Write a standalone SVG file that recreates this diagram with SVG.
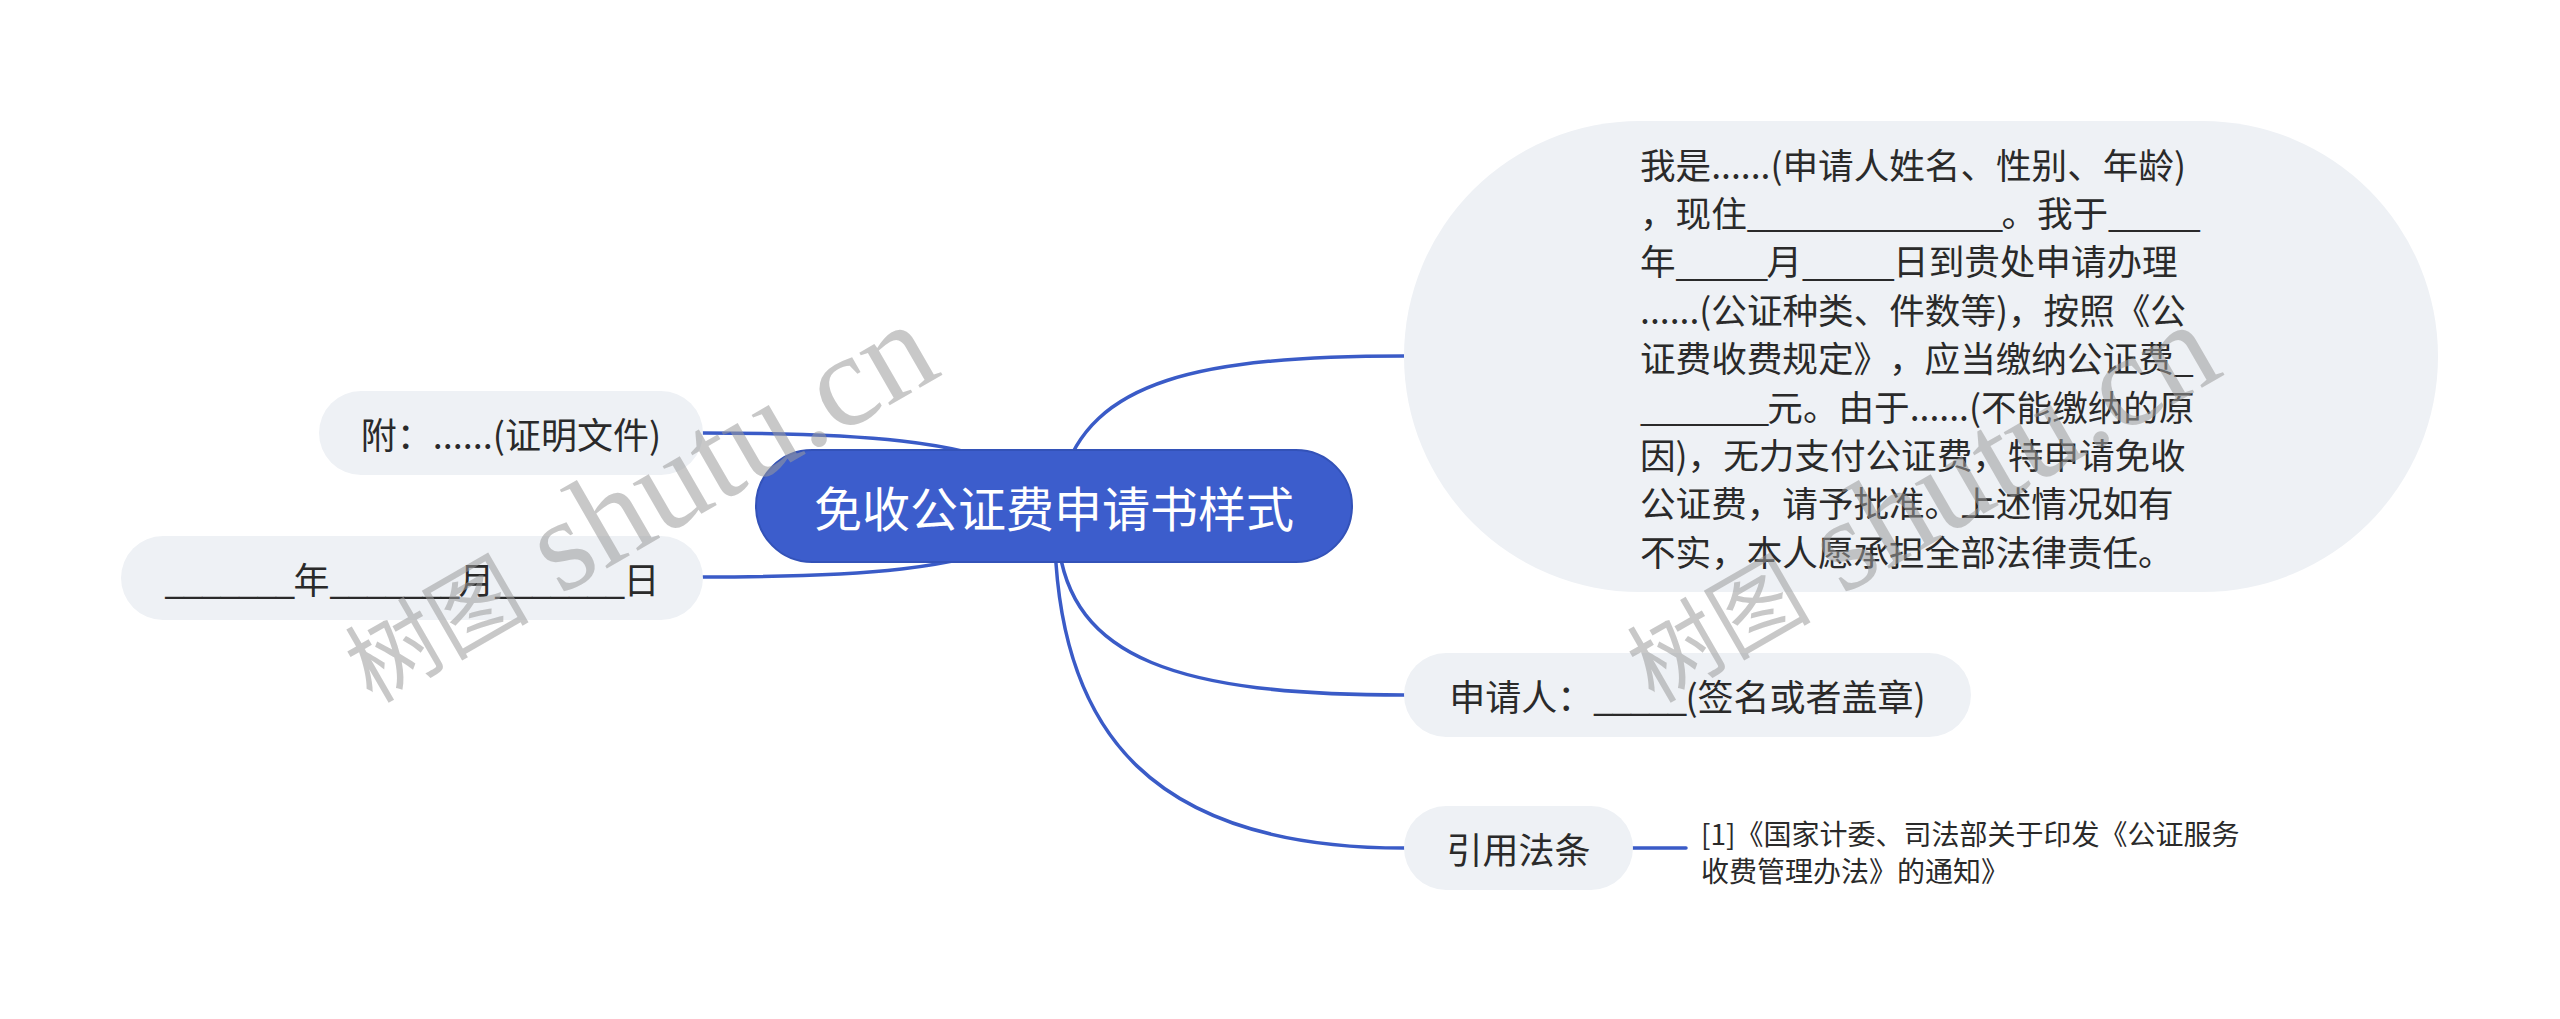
<svg xmlns="http://www.w3.org/2000/svg" width="2560" height="1019" viewBox="0 0 2560 1019">
<style>
.t{font-family:"Noto Sans CJK SC","Microsoft YaHei",sans-serif;fill:#2a2a2a;dominant-baseline:central;text-spacing-trim:space-all}
.u{letter-spacing:-1.7px}
.n{fill:#eef1f5}
.c{fill:none;stroke:#3a5bc7;stroke-width:3.5;stroke-linecap:round}
.wm{font-family:"Liberation Serif","Noto Sans CJK SC",serif;fill:#9a9a9a;fill-opacity:0.55}
</style>
<rect width="2560" height="1019" fill="#ffffff"/>
<g id="connectors">
<path class="c" d="M1062 480 C1090 380 1200 356 1404 356"/>
<path class="c" d="M1058 540 C1070 660 1180 695 1404 695"/>
<path class="c" d="M1055 545 C1062 730 1150 848 1404 848"/>
<path class="c" d="M1020 470 C960 442 870 433 703 433"/>
<path class="c" d="M1020 540 C960 568 870 577 703 577"/>
<path class="c" d="M1633 848 L1686 848"/>
</g>
<g id="root">
<rect x="756" y="450" width="596" height="112" rx="56" fill="#3c5dcc" stroke="#3352b8" stroke-width="2"/>
<text class="t" x="1054" y="506" text-anchor="middle" font-size="48" style="fill:#ffffff">免收公证费申请书样式</text>
</g>
<g id="node-body">
<rect class="n" x="1404" y="121" width="1034" height="471" rx="235.5"/>
<text class="t" x="1640" y="163" font-size="35.6">我是......(申请人姓名、性别、年龄)</text>
<text class="t" x="1640" y="211.4" font-size="35.6">，现住<tspan class="u">______________</tspan>。我于<tspan class="u">_____</tspan></text>
<text class="t" x="1640" y="259.8" font-size="35.6">年<tspan class="u">_____</tspan>月<tspan class="u">_____</tspan>日到贵处申请办理</text>
<text class="t" x="1640" y="308.2" font-size="35.6">......(公证种类、件数等)，按照《公</text>
<text class="t" x="1640" y="356.6" font-size="35.6">证费收费规定》，应当缴纳公证费_</text>
<text class="t" x="1640" y="405" font-size="35.6"><tspan class="u">_______</tspan>元。由于......(不能缴纳的原</text>
<text class="t" x="1640" y="453.4" font-size="35.6">因)，无力支付公证费，特申请免收</text>
<text class="t" x="1640" y="501.8" font-size="35.6">公证费，请予批准。上述情况如有</text>
<text class="t" x="1640" y="550.2" font-size="35.6">不实，本人愿承担全部法律责任。</text>
</g>
<g id="node-applicant">
<rect class="n" x="1404" y="653" width="567" height="84" rx="42"/>
<text class="t" x="1687.5" y="695" text-anchor="middle" font-size="36">申请人：<tspan class="u">_____</tspan>(签名或者盖章)</text>
</g>
<g id="node-law">
<rect class="n" x="1404" y="806" width="229" height="84" rx="42"/>
<text class="t" x="1518.5" y="848" text-anchor="middle" font-size="36">引用法条</text>
</g>
<g id="node-law-text">
<text class="t" x="1701" y="833" font-size="28">[1]《国家计委、司法部关于印发《公证服务</text>
<text class="t" x="1701" y="870" font-size="28">收费管理办法》的通知》</text>
</g>
<g id="node-attach">
<rect class="n" x="319" y="391" width="384" height="84" rx="42"/>
<text class="t" x="511" y="433" text-anchor="middle" font-size="36">附：......(证明文件)</text>
</g>
<g id="node-date">
<rect class="n" x="121" y="536" width="582" height="84" rx="42"/>
<text class="t" x="412" y="578" text-anchor="middle" font-size="36"><tspan class="u">_______</tspan>年<tspan class="u">_______</tspan>月<tspan class="u">_______</tspan>日</text>
</g>
<g id="watermarks">
<text class="wm" transform="translate(372 704) rotate(-30)"><tspan font-size="92">树图</tspan><tspan font-size="132"> shutu.cn</tspan></text>
<text class="wm" transform="translate(1654 704) rotate(-30)"><tspan font-size="92">树图</tspan><tspan font-size="132"> shutu.cn</tspan></text>
</g>
</svg>
